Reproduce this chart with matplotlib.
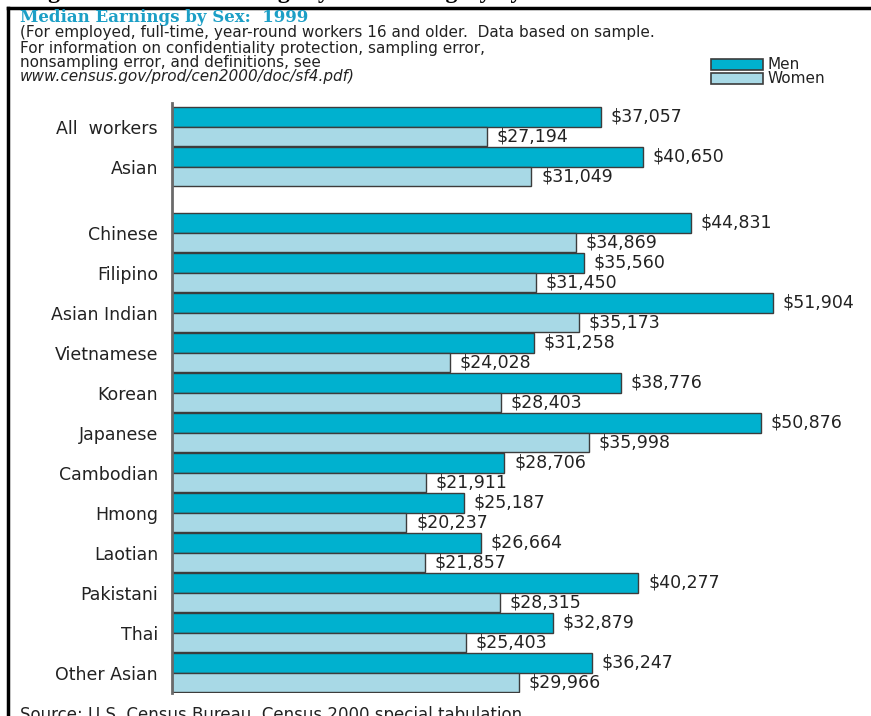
import matplotlib
matplotlib.use('Agg')
import matplotlib.pyplot as plt
from matplotlib.lines import Line2D

# Median earnings (dollars), 1999
groups = ['All  workers', 'Asian', 'Chinese', 'Filipino', 'Asian Indian', 'Vietnamese',
          'Korean', 'Japanese', 'Cambodian', 'Hmong', 'Laotian', 'Pakistani', 'Thai',
          'Other Asian']
men = [37057, 40650, 44831, 35560, 51904, 31258, 38776, 50876, 28706, 25187, 26664,
       40277, 32879, 36247]
women = [27194, 31049, 34869, 31450, 35173, 24028, 28403, 35998, 21911, 20237, 21857,
         28315, 25403, 29966]

MEN_COLOR = '#00b1cf'
WOMEN_COLOR = '#a8d9e6'
EDGE = '#3c3c3c'
TEXT = '#222222'

W, H = 871, 716
fig = plt.figure(figsize=(W / 100, H / 100), dpi=100)


def fx(px):
    return px / W


def fy(py):
    return 1 - py / H


# axes placed in pixel terms: bars start at x=172, one group = 40 px
x0, x_scale = 172, 0.011577
top_px, group_px = 103, 40
ymin, ymax = -0.1, 14.65
ax_h = (ymax - ymin) * group_px
ax_w = 60000 * x_scale
ax = fig.add_axes([fx(x0), fy(top_px + ax_h), fx(ax_w), ax_h / H])
ax.set_xlim(0, 60000)
ax.set_ylim(ymax, ymin)

# blank slot between "Asian" and the detailed groups
pos = [i + (0.65 if i >= 2 else 0) for i in range(len(groups))]
bh = 0.49
ax.barh(pos, men, height=bh, align='edge', color=MEN_COLOR, edgecolor=EDGE, linewidth=1)
ax.barh([p + bh for p in pos], women, height=bh, align='edge', color=WOMEN_COLOR,
        edgecolor=EDGE, linewidth=1)

lab_font = dict(fontsize=12.5, color=TEXT, family='DejaVu Sans')
for p, m, w in zip(pos, men, women):
    ax.annotate(f'${m:,}', (m, p + bh / 2), xytext=(7, 0), textcoords='offset points',
                va='center', ha='left', **lab_font)
    ax.annotate(f'${w:,}', (w, p + bh * 1.5), xytext=(7, 0), textcoords='offset points',
                va='center', ha='left', **lab_font)

ax.set_yticks([p + bh for p in pos])
ax.set_yticklabels(groups, **lab_font)
ax.tick_params(axis='y', length=0, pad=10)
ax.set_xticks([])
for s in ['top', 'right', 'bottom']:
    ax.spines[s].set_visible(False)
ax.spines['left'].set_color('#6a6a6a')
ax.spines['left'].set_linewidth(2)

# frame lines
fig.add_artist(Line2D([fx(8), 1], [fy(8), fy(8)], color='black', lw=2.5))
fig.add_artist(Line2D([fx(8), fx(8)], [fy(8), 0], color='black', lw=2.5))

# heading cut off by the top edge
fig.text(fx(27), fy(-2), 'Figure 9. Median Earnings by Asian Category by Sex: 1999',
         family='Liberation Serif', weight='bold', fontsize=17, va='baseline')

fig.text(fx(20), fy(22), 'Median Earnings by Sex:  1999', color='#1c9fc6',
         family='DejaVu Serif', weight='bold', fontsize=12, va='baseline')

notes = ['(For employed, full-time, year-round workers 16 and older.  Data based on sample.',
         'For information on confidentiality protection, sampling error,',
         'nonsampling error, and definitions, see']
for i, line in enumerate(notes):
    fig.text(fx(20), fy(33 + i * 15), line, fontsize=11, color=TEXT, va='center')
fig.text(fx(20), fy(77), 'www.census.gov/prod/cen2000/doc/sf4.pdf)', fontsize=11,
         color=TEXT, va='center', style='italic')

# legend
for i, (name, col) in enumerate([('Men', MEN_COLOR), ('Women', WOMEN_COLOR)]):
    yy = 59 + i * 14
    fig.add_artist(plt.Rectangle((fx(711), fy(yy + 11)), fx(52), 11 / H, facecolor=col,
                                 edgecolor=EDGE, lw=1.2))
    fig.text(fx(767), fy(yy + 5.5), name, fontsize=11, color=TEXT, va='center')

fig.text(fx(20), fy(720), 'Source: U.S. Census Bureau, Census 2000 special tabulation.',
         fontsize=12, color=TEXT, va='baseline')

fig.savefig('out.png', dpi=100)
